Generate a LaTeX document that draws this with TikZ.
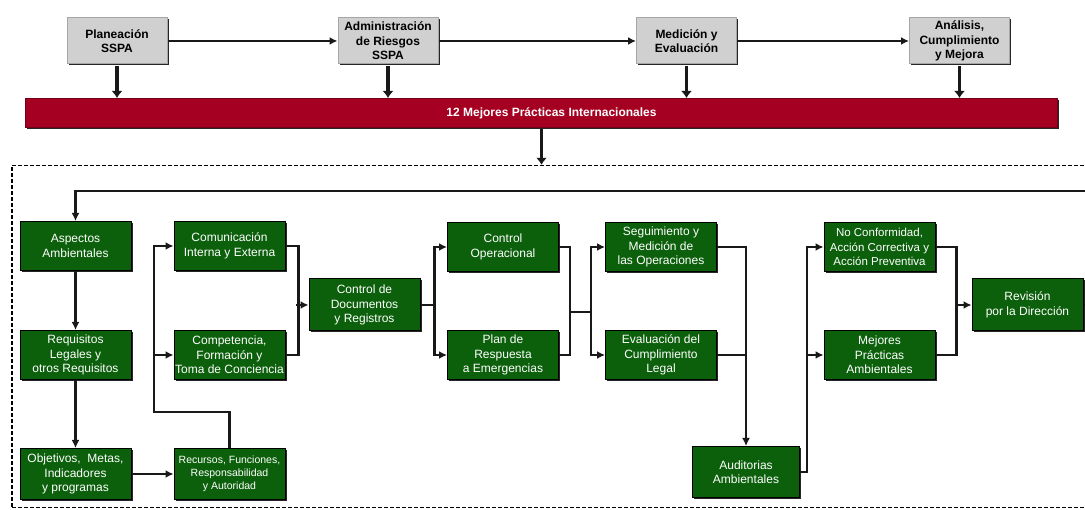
\documentclass[tikz,border=0pt]{standalone}
\usepackage{fontspec}
\setmainfont{Liberation Sans}
\usepackage{xcolor}
\definecolor{PHASECOLOR}{RGB}{208,208,208}
\definecolor{PRACTICECOLOR}{RGB}{165,0,33}
\definecolor{ELEMENTCOLOR}{RGB}{12,96,12}
\colorlet{LINECOLOR}{black!90}
\usepackage{tikz}
\usetikzlibrary{arrows.meta,positioning,shadows}
\tikzset{
  basic-style/.style = {
    rectangle, draw=black, line width=1pt,
    fill=#1, align=center, inner sep=1pt,
    drop shadow={shadow xshift=1.5pt, shadow yshift=-1.5pt, fill=black, opacity=.85}
  },
  phase-style/.style = {
    basic-style=PHASECOLOR, draw=gray!70,
    minimum width=100pt, minimum height=46pt,
    font=\bfseries\fontsize{12}{14.5}\selectfont
  },
  element-style/.style = {
    basic-style=ELEMENTCOLOR, text=white,
    minimum width=111pt, minimum height=49pt,
    font=\fontsize{12}{14.5}\selectfont
  },
  bar-style/.style = {
    basic-style=PRACTICECOLOR, draw=PRACTICECOLOR!70!black, text=white,
    minimum width=1032pt, minimum height=29pt,
    font=\bfseries\fontsize{12}{14}\selectfont
  },
  frame-style/.style = {
    draw, dash pattern=on 4pt off 2pt, line width=1.4pt,
    minimum width=1088pt, minimum height=342pt, inner sep=0pt
  },
  link-style/.style = {draw=LINECOLOR, line width=2.2pt},
  flow-style/.style = {link-style, -{Latex[length=8pt,width=8pt]}},
  top-style/.style = {draw=LINECOLOR, line width=1.8pt, -{Latex[length=8pt,width=8pt]}},
  drop-style/.style = {draw=LINECOLOR, line width=3.2pt, -{Latex[length=7pt,width=11pt]}}
}

\begin{document}
\begin{tikzpicture}[x=1pt,y=-1pt]
  \useasboundingbox (0,0) rectangle (1085,510);

  % fases
  \node [phase-style] (planeacion) at (117,41) {Planeación\\SSPA};
  \node [phase-style] (administracion) at (388,41) {Administración\\de Riesgos\\SSPA};
  \node [phase-style] (medicion) at (686.5,41) {Medición y\\Evaluación};
  \node [phase-style] (analisis) at (959.5,41) {Análisis,\\Cumplimiento\\y Mejora};
  \node [bar-style] (practicas) at (541.5,113) {\hspace*{20pt}12 Mejores Prácticas Internacionales};

  \path (planeacion) edge[top-style] (administracion)
        (administracion) edge[top-style] (medicion)
        (medicion) edge[top-style] (analisis);
  \foreach \fase in {planeacion,administracion,medicion,analisis}
    \draw [drop-style] ([yshift=-1.5pt]\fase.south) -- (\fase.south |- practicas.north);

  \node [frame-style] (marco) at (556,336.5) {};
  \draw [drop-style] ([yshift=-1.5pt]practicas.south) -- (practicas.south |- marco.north);

  % elementos
  \node [element-style] (aspectos) at (75.5,246) {Aspectos\\Ambientales};
  \node [element-style, below=59pt of aspectos] (requisitos) {Requisitos\\Legales y\\otros Requisitos};
  \node [element-style, below=68pt of requisitos, minimum height=51pt] (objetivos) {Objetivos,\ \ Metas,\\Indicadores\\y programas};
  \node [element-style, right=42pt of aspectos] (comunicacion) {Comunicación\\Interna y Externa};
  \node [element-style, right=42pt of requisitos] (competencia) {Competencia,\\Formación y\\Toma de Conciencia};
  \node [element-style, right=42pt of objetivos, minimum height=51pt,
         font=\fontsize{10.5}{13}\selectfont] (recursos) {Recursos, Funciones,\\Responsabilidad\\y Autoridad};
  \node [element-style, minimum height=52pt] (documentos) at (364.5,305) {Control de\\Documentos\\y Registros};
  \node [element-style] (operacional) at (503,247) {Control\\Operacional};
  \node [element-style, below=58pt of operacional] (emergencias) {Plan de\\Respuesta\\a Emergencias};
  \node [element-style, right=46pt of operacional] (seguimiento) {Seguimiento y\\Medición de\\las Operaciones};
  \node [element-style, right=46pt of emergencias] (evaluacion) {Evaluación del\\Cumplimiento\\Legal};
  \node [element-style, minimum width=107pt, minimum height=51pt] (auditorias) at (746,472) {Auditorias\\Ambientales};
  \node [element-style, font=\fontsize{11.5}{14.5}\selectfont] (noconformidad) at (879.5,247) {No Conformidad,\\Acción Correctiva y\\Acción Preventiva};
  \node [element-style, below=58pt of noconformidad] (mejores) {Mejores\\Prácticas\\Ambientales};
  \node [element-style, minimum height=52pt] (revision) at (1027.5,305) {Revisión\\por la Dirección};

  \coordinate (recursosbus) at (154,412);
  \coordinate (medicionbus) at (591,312);

  \draw [flow-style] (revision.east) -- ++(25,0) |- ([yshift=30pt]aspectos.north) -- (aspectos.north);
  \draw [flow-style] (aspectos) -- (requisitos);
  \draw [flow-style] (requisitos) -- (objetivos);
  \draw [flow-style] (objetivos) -- (recursos);

  \draw [flow-style] (recursos.north) |- (recursosbus) |- (comunicacion.west);
  \draw [flow-style] (recursosbus |- competencia.west) -- (competencia.west);

  \draw [link-style] (comunicacion.east) -- ++(13,0) |- (competencia.east);
  \draw [flow-style] ([xshift=-13pt]documentos.west) -- (documentos.west);

  \draw [flow-style] (documentos.east) -- ++(14,0) |- (operacional.west);
  \draw [flow-style] (documentos.east) -- ++(14,0) |- (emergencias.west);

  \draw [link-style] (operacional.east) -- ++(11,0) |- (emergencias.east);
  \draw [link-style] ([xshift=-21pt]medicionbus) -- (medicionbus);
  \draw [flow-style] (medicionbus) |- (seguimiento.west);
  \draw [flow-style] (medicionbus) |- (evaluacion.west);

  \draw [flow-style] (seguimiento.east) -| (auditorias.north);
  \draw [link-style] (evaluacion.east) -- (evaluacion.east -| auditorias.north);

  \draw [flow-style] (auditorias.east) -- ++(7,0) |- (noconformidad.west);
  \draw [flow-style] (auditorias.east) -- ++(7,0) |- (mejores.west);

  \draw [link-style] (noconformidad.east) -- ++(21,0) |- (mejores.east);
  \draw [flow-style] ([xshift=-15pt]revision.west) -- (revision.west);
\end{tikzpicture}
\end{document}
